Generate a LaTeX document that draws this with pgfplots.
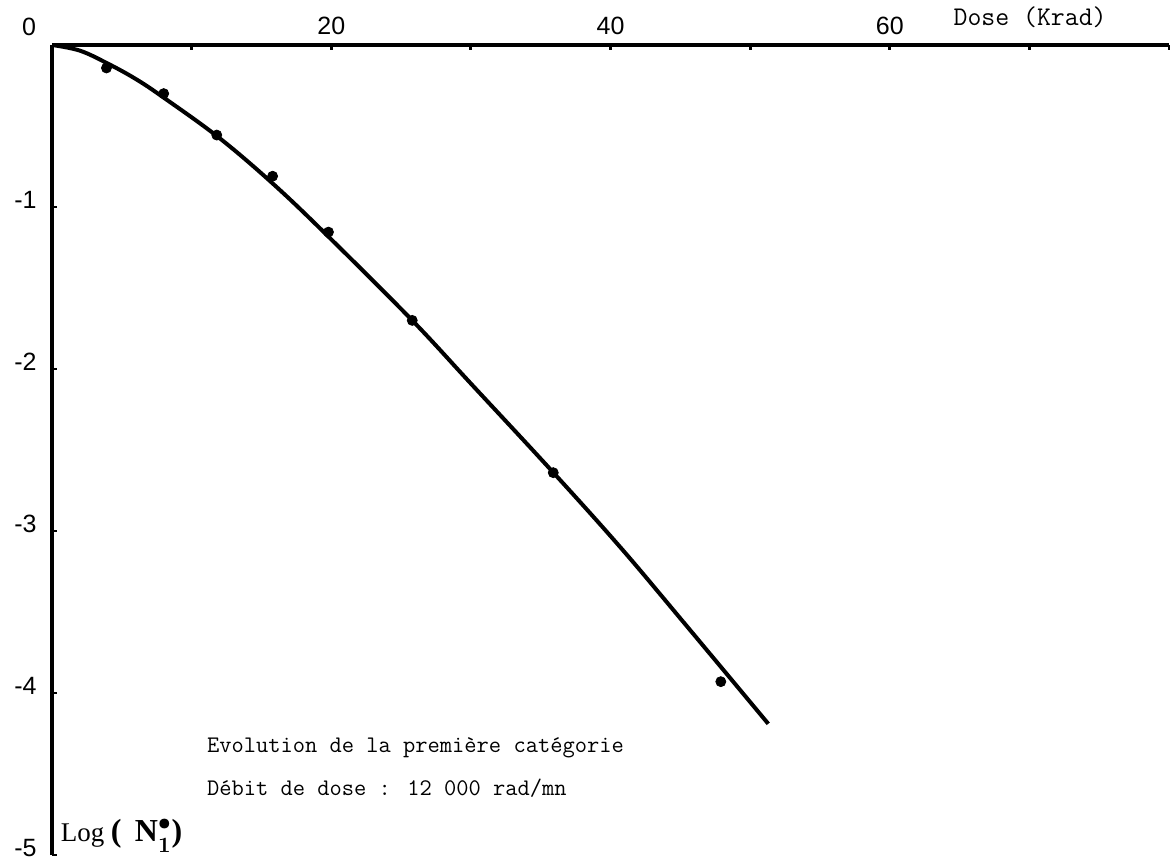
\documentclass[border=0pt]{standalone}
\usepackage{fontspec}
\newfontfamily\serifface{Liberation Serif}
\newfontfamily\tickface{Liberation Sans}
\usepackage{pgfplots}
\pgfplotsset{compat=1.18}

\begin{document}
\begin{tikzpicture}
\begin{axis}[
  scale only axis,
  width=558.5pt, height=405pt,
  xmin=0, xmax=80, ymin=-5, ymax=0,
  axis x line=top, axis y line=left,
  axis line style={line width=1.6pt, -},
  xtick={0,10,...,80},
  xticklabels={,,20,,40,,60,,},
  ytick={-5,-4,-3,-2,-1},
  yticklabels={-5,-4,-3,-2,-1},
  tick align=inside,
  major tick length=2.5pt,
  tick style={line width=1.4pt, black},
  xticklabel style={font=\tickface\fontsize{12.5}{14}\selectfont, anchor=south, inner sep=0pt, yshift=5pt},
  yticklabel style={font=\tickface\fontsize{12.5}{14}\selectfont, anchor=east, inner sep=0pt, xshift=-7.5pt, yshift=3.5pt},
  clip=false,
]
% fitted survival curve
\addplot[black, line width=2pt, smooth, tension=0.6] coordinates {
  (0,0) (2,-0.035) (4,-0.115) (6,-0.21) (8,-0.325) (12,-0.575)
  (16,-0.87) (20,-1.20) (25.8,-1.70) (30,-2.09) (35.7,-2.62)
  (40.7,-3.10) (45.2,-3.56) (51.3,-4.19)
};
% measured points
\addplot[only marks, mark=*, mark size=2.5pt, black] coordinates {
  (3.9,-0.142) (8.0,-0.30) (11.8,-0.556) (15.8,-0.81)
  (19.8,-1.155) (25.8,-1.70) (35.9,-2.64) (47.9,-3.93)
};
\node[font=\tickface\fontsize{12.5}{14}\selectfont] at ([shift={(-11.5pt,9pt)}]axis cs:0,0) {0};
\node[font=\ttfamily\fontsize{13.5}{15}\selectfont] at ([yshift=14pt]axis cs:70.05,0) {Dose (Krad)};
\node[anchor=west, font=\ttfamily\fontsize{11.9}{13}\selectfont] at (axis cs:10.6,-4.34) {Evolution de la première catégorie};
\node[anchor=west, font=\ttfamily\fontsize{11.9}{13}\selectfont] at (axis cs:10.6,-4.59) {Débit de dose : 12 000 rad/mn};
\node[anchor=west, inner sep=0pt] at (axis cs:0.6,-4.88)
  {{\serifface\fontsize{13.5}{15}\selectfont Log} {\serifface\bfseries\boldmath\fontsize{16}{18}\selectfont ( \,N$^{\bullet}_{1}$)}};
\end{axis}
\pgfresetboundingbox
\path (current axis.south west) ++(-26pt,-5pt) rectangle ([shift={(2pt,22.5pt)}]current axis.north east);
\end{tikzpicture}
\end{document}
